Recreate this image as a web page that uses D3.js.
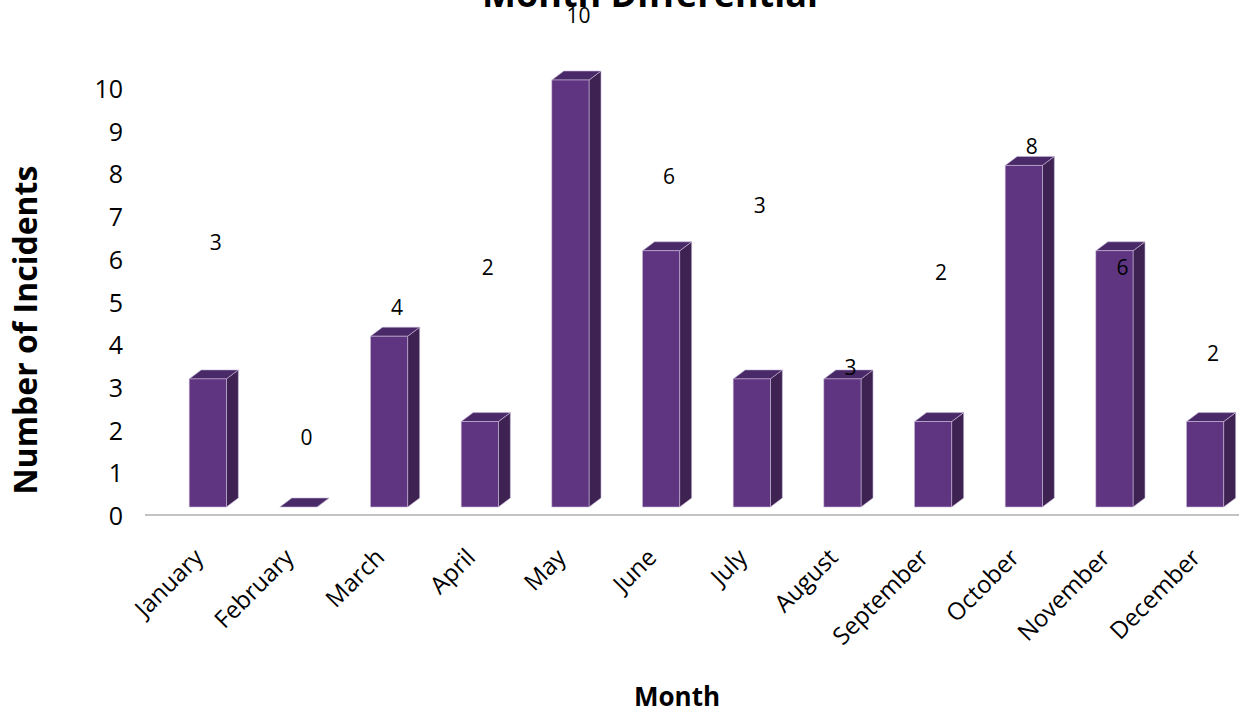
<!DOCTYPE html>
<html>
<head>
<meta charset="utf-8">
<script src="https://cdn.jsdelivr.net/npm/d3@7"></script>
<style>
  body { margin: 0; background: #fff; }
  svg { display: block; font-family: "Open Sans", sans-serif; }
</style>
</head>
<body>
<svg id="chart" width="1239" height="714"></svg>
<script>
// chart data
const months = ["January", "February", "March", "April", "May", "June",
  "July", "August", "September", "October", "November", "December"];
const incidents = [3, 0, 4, 2, 10, 6, 3, 3, 2, 8, 6, 2];
// where each data label floats (in axis units)
const labelHeights = [6.2, 1.64, 4.68, 5.62, 11.52, 7.75, 7.07, 3.28, 5.5, 8.45, 5.6, 3.6];
const yTicks = [0, 1, 2, 3, 4, 5, 6, 7, 8, 9, 10];

const svg = d3.select("#chart");
const width = 1239;

const base = 507;
const x = d3.scaleBand().domain(months).range([152, 1240]);
const y = d3.scaleLinear().domain([0, 10]).range([base, 80]);

const bw = x.bandwidth() * 0.41;
const dx = 12, dy = 9; // depth of the 3d bars
const barLeft = (m) => x(m) + x.bandwidth() * 0.41;

// floor line
svg.append("line")
  .attr("x1", 145).attr("x2", width)
  .attr("y1", base + 8).attr("y2", base + 8)
  .attr("stroke", "#c3c3c3")
  .attr("stroke-width", 2);

// bars
const bars = svg.append("g")
  .selectAll("g")
  .data(months.map((m, i) => ({ m, v: incidents[i] })))
  .join("g");

bars.append("polygon") // side
  .attr("points", (d) => {
    const x1 = barLeft(d.m) + bw, yt = y(d.v);
    return [[x1, yt], [x1 + dx, yt - dy], [x1 + dx, base - dy], [x1, base]].join(" ");
  })
  .attr("fill", "#3e2352")
  .attr("stroke", "#c8b9d8")
  .attr("stroke-width", 0.6);

bars.append("polygon") // top
  .attr("points", (d) => {
    const x0 = barLeft(d.m), yt = y(d.v);
    return [[x0, yt], [x0 + dx, yt - dy], [x0 + bw + dx, yt - dy], [x0 + bw, yt]].join(" ");
  })
  .attr("fill", "#4a2968")
  .attr("stroke", "#c8b9d8")
  .attr("stroke-width", 0.6);

bars.append("rect") // front
  .attr("x", (d) => barLeft(d.m))
  .attr("y", (d) => y(d.v))
  .attr("width", bw)
  .attr("height", (d) => base - y(d.v))
  .attr("fill", "#5f3480")
  .attr("stroke", "#c8b9d8")
  .attr("stroke-width", 0.6);

// data labels
svg.append("g")
  .selectAll("text")
  .data(months.map((m, i) => ({ m, v: incidents[i], h: labelHeights[i] })))
  .join("text")
  .attr("x", (d) => barLeft(d.m) + bw / 2 + 8)
  .attr("y", (d) => y(d.h))
  .attr("dy", "0.36em")
  .attr("text-anchor", "middle")
  .attr("font-size", 21)
  .attr("fill", "#000")
  .text((d) => d.v);

// y tick labels
svg.append("g")
  .selectAll("text")
  .data(yTicks)
  .join("text")
  .attr("x", 123)
  .attr("y", (d) => y(d) + 9)
  .attr("dy", "0.36em")
  .attr("text-anchor", "end")
  .attr("font-size", 25)
  .text((d) => d);

// x tick labels
svg.append("g")
  .selectAll("text")
  .data(months)
  .join("text")
  .attr("transform", (m) => `translate(${barLeft(m) + bw / 2 - 9},${base + 46}) rotate(-45)`)
  .attr("text-anchor", "end")
  .attr("dy", "0.35em")
  .attr("font-size", 24)
  .text((m) => m);

// titles
svg.append("text")
  .attr("x", 650).attr("y", 7)
  .attr("text-anchor", "middle")
  .attr("font-size", 36)
  .attr("font-weight", "bold")
  .text("Month Differential");

svg.append("text")
  .attr("x", 677).attr("y", 706)
  .attr("text-anchor", "middle")
  .attr("font-size", 26)
  .attr("font-weight", "bold")
  .text("Month");

svg.append("text")
  .attr("transform", "translate(37,330) rotate(-90)")
  .attr("text-anchor", "middle")
  .attr("font-size", 32)
  .attr("font-weight", "bold")
  .text("Number of Incidents");
</script>
</body>
</html>
